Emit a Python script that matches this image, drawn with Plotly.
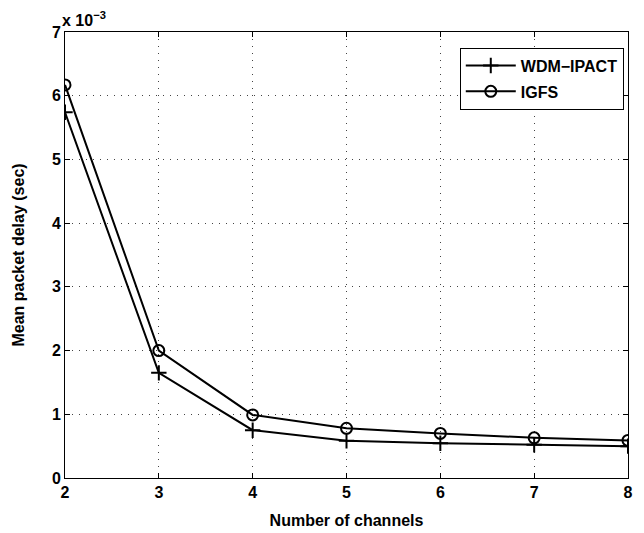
import plotly.graph_objects as go

channels = [2, 3, 4, 5, 6, 7, 8]
wdm_ipact = [5.74e-3, 1.65e-3, 0.75e-3, 0.585e-3, 0.545e-3, 0.52e-3, 0.50e-3]
igfs = [6.17e-3, 2.00e-3, 0.99e-3, 0.78e-3, 0.70e-3, 0.63e-3, 0.59e-3]
y_ticks = [0, 1, 2, 3, 4, 5, 6, 7]
scale = 1e-3

FONT = "Liberation Sans"

fig = go.Figure()
fig.add_trace(go.Scatter(
    x=channels, y=[v / scale for v in wdm_ipact], name="<b>WDM−IPACT</b>",
    mode="lines+markers", legendgroup="a",
    line=dict(color="black", width=2),
    marker=dict(symbol="cross-thin-open", size=11, color="black",
                line=dict(color="black", width=2)),
))
fig.add_trace(go.Scatter(
    x=channels, y=[v / scale for v in igfs], name="<b>IGFS</b>",
    mode="lines+markers", legendgroup="b",
    line=dict(color="black", width=2),
    marker=dict(symbol="circle-open", size=11, color="black",
                line=dict(color="black", width=2)),
))

axis_common = dict(
    showline=True, linecolor="black", linewidth=1, mirror="ticks",
    ticks="inside", ticklen=5, tickcolor="black",
    showgrid=True, gridcolor="#444", griddash="1px,6px", gridwidth=1,
    zeroline=False, automargin=False,
    tickfont=dict(family=FONT, size=16, color="black", weight="bold"),
)

fig.update_layout(
    width=644, height=533,
    margin=dict(l=65, r=16, t=32, b=55),
    paper_bgcolor="white", plot_bgcolor="white",
    font=dict(family=FONT, color="black"),
    showlegend=True,
    legend=dict(
        x=0.9925, y=0.965, xanchor="right", yanchor="top",
        bgcolor="white", bordercolor="black", borderwidth=1,
        font=dict(family=FONT, size=16, color="black"),
        itemwidth=50, traceorder="grouped", tracegroupgap=2,
    ),
    xaxis=dict(
        range=[2, 8], tickvals=channels,
        title=dict(text="<b>Number of channels</b>", standoff=14,
                   font=dict(family=FONT, size=16, color="black")),
        **axis_common,
    ),
    yaxis=dict(
        range=[0, 7], tickvals=y_ticks,
        title=dict(text="<b>Mean packet delay (sec)</b>", standoff=23,
                   font=dict(family=FONT, size=16, color="black")),
        **axis_common,
    ),
    annotations=[dict(
        text="<b>x 10<sup>−3</sup></b>", xref="paper", yref="paper",
        x=0.0, y=1.0, xanchor="left", yanchor="bottom", showarrow=False,
        xshift=-5, yshift=1,
        font=dict(family=FONT, size=16, color="black"),
    )],
)

fig.write_html("out.html",
               config={"displayModeBar": False},
               post_script="document.body.style.margin='0';document.body.style.padding='0';")
